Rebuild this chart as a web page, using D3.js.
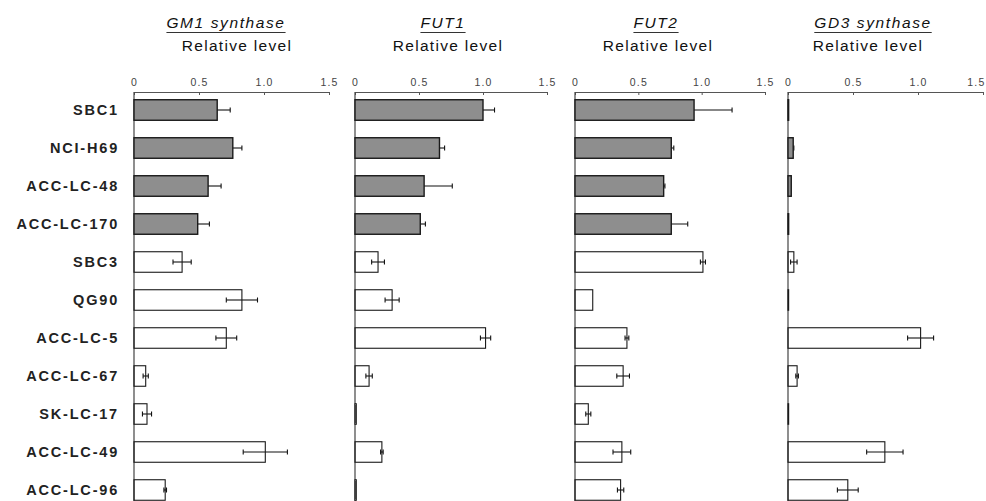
<!DOCTYPE html>
<html>
<head>
<meta charset="utf-8">
<script src="https://cdn.jsdelivr.net/npm/d3@7"></script>
<style>
  html, body { margin: 0; padding: 0; background: #fff; }
  svg { display: block; }
  text { font-family: "Liberation Sans", Arial, sans-serif; }
</style>
</head>
<body>
<svg id="chart" width="986" height="501"></svg>
<script>
// Cell lines (rows, top to bottom)
const cellLines = ["SBC1", "NCI-H69", "ACC-LC-48", "ACC-LC-170", "SBC3", "QG90",
  "ACC-LC-5", "ACC-LC-67", "SK-LC-17", "ACC-LC-49", "ACC-LC-96"];
// Lines drawn with shaded bars
const shadedLines = ["SBC1", "NCI-H69", "ACC-LC-48", "ACC-LC-170"];

// Genes (one panel each)
const genes = ["GM1 synthase", "FUT1", "FUT2", "GD3 synthase"];

// Relative expression levels (mean) per gene, in cellLines order
const gm1Values = [0.64, 0.76, 0.57, 0.49, 0.37, 0.83, 0.71, 0.09, 0.10, 1.01, 0.24];
const gm1Errors = [0.10, 0.07, 0.10, 0.09, 0.07, 0.12, 0.08, 0.02, 0.035, 0.17, 0.01];

const fut1Values = [1.00, 0.66, 0.54, 0.51, 0.18, 0.29, 1.02, 0.11, 0.01, 0.21, 0.01];
const fut1Errors = [0.09, 0.04, 0.22, 0.04, 0.05, 0.055, 0.04, 0.025, 0, 0.01, 0];

const fut2Values = [0.94, 0.76, 0.70, 0.76, 1.01, 0.14, 0.41, 0.38, 0.105, 0.37, 0.36];
const fut2Errors = [0.30, 0.02, 0.01, 0.13, 0.02, 0, 0.015, 0.05, 0.02, 0.07, 0.025];

const gd3Values = [0.005, 0.04, 0.025, 0.005, 0.045, 0.005, 1.02, 0.07, 0.005, 0.745, 0.46];
const gd3Errors = [0, 0.005, 0, 0, 0.025, 0, 0.10, 0.01, 0, 0.14, 0.08];

const tickValues = [0, 0.5, 1.0, 1.5];
const tickLabels = ["0", "0.5", "1.0", "1.5"];
const axisTitle = "Relative level";

const panelValues = [gm1Values, fut1Values, fut2Values, gd3Values];
const panelErrors = [gm1Errors, fut1Errors, fut2Errors, gd3Errors];

// Panel geometry: zero position, width of the 0–1.5 range, title centres
const panelLayout = [
  { x0: 134, w: 195, titleX: 226, subX: 237 },
  { x0: 355, w: 192, titleX: 443, subX: 448 },
  { x0: 575, w: 190, titleX: 656, subX: 658 },
  { x0: 788, w: 195, titleX: 873, subX: 868 }
];

const W = 986;
const svg = d3.select("#chart");
const axisY = 92;

const y = d3.scaleBand()
  .domain(cellLines)
  .range([axisY - 1, axisY - 1 + cellLines.length * 38])
  .paddingInner(0.46)
  .paddingOuter(0.23);

// Row labels
svg.append("g")
  .selectAll("text")
  .data(cellLines)
  .join("text")
  .attr("x", 119)
  .attr("y", d => y(d) + y.bandwidth() / 2)
  .attr("dy", "0.36em")
  .attr("text-anchor", "end")
  .attr("font-size", 14.5)
  .attr("font-weight", "bold")
  .attr("letter-spacing", 1.8)
  .attr("fill", "#222")
  .text(d => d);

genes.forEach((gene, p) => {
  const L = panelLayout[p];
  const x = d3.scaleLinear().domain([0, 1.5]).range([L.x0, L.x0 + L.w]);
  const g = svg.append("g");

  // Gene title, italic and underlined
  const title = g.append("text")
    .attr("x", L.titleX)
    .attr("y", 28)
    .attr("text-anchor", "middle")
    .attr("font-size", 15.5)
    .attr("font-style", "italic")
    .attr("letter-spacing", 1.6)
    .attr("fill", "#111")
    .text(gene);
  const tw = title.node().getComputedTextLength();
  g.append("line")
    .attr("x1", L.titleX - tw / 2).attr("x2", L.titleX + tw / 2)
    .attr("y1", 32.5).attr("y2", 32.5)
    .attr("stroke", "#333").attr("stroke-width", 1.2);

  g.append("text")
    .attr("x", L.subX)
    .attr("y", 51)
    .attr("text-anchor", "middle")
    .attr("font-size", 15.5)
    .attr("letter-spacing", 1.3)
    .attr("fill", "#111")
    .text(axisTitle);

  // Top value axis with short downward ticks
  const axis = d3.axisTop(x)
    .tickValues(tickValues)
    .tickFormat((d, i) => tickLabels[i])
    .tickSizeInner(-3)
    .tickSizeOuter(0)
    .tickPadding(6);
  const ag = g.append("g").attr("transform", `translate(0,${axisY})`).call(axis);
  ag.select(".domain").attr("stroke", "#555").attr("stroke-width", 1);
  ag.selectAll(".tick line").attr("stroke", "#555");
  ag.selectAll(".tick text")
    .attr("font-size", 10.5)
    .attr("letter-spacing", 1.2)
    .attr("fill", "#444")
    .attr("font-family", "\"Liberation Sans\", Arial, sans-serif")
    .each(function (d) {
      // keep the rightmost label inside the drawing area
      const half = this.getComputedTextLength() / 2;
      const over = x(d) + half - (W - 1);
      if (over > 0) d3.select(this).attr("dx", -over);
    });

  // Vertical baseline at zero
  g.append("line")
    .attr("x1", x(0)).attr("x2", x(0))
    .attr("y1", axisY).attr("y2", 501)
    .attr("stroke", "#444").attr("stroke-width", 1.2);

  const rows = cellLines.map((c, i) => ({
    line: c,
    v: panelValues[p][i],
    e: panelErrors[p][i],
    shaded: shadedLines.includes(c)
  }));

  // Error bars (drawn first so shaded bars cover the lower whisker)
  const eg = g.append("g").attr("stroke", "#111").attr("stroke-width", 1.1);
  rows.filter(r => r.e > 0).forEach(r => {
    const cy = y(r.line) + y.bandwidth() / 2;
    const lo = Math.max(0, r.v - r.e), hi = r.v + r.e;
    eg.append("line").attr("x1", x(lo)).attr("x2", x(hi)).attr("y1", cy).attr("y2", cy);
    [lo, hi].forEach(v => {
      eg.append("line").attr("x1", x(v)).attr("x2", x(v))
        .attr("y1", cy - 2.5).attr("y2", cy + 2.5);
    });
  });

  // Bars
  g.append("g")
    .selectAll("rect")
    .data(rows)
    .join("rect")
    .attr("x", x(0))
    .attr("y", d => y(d.line))
    .attr("width", d => Math.max(0.5, x(d.v) - x(0)))
    .attr("height", y.bandwidth())
    .attr("fill", d => d.shaded ? "#8e8e8e" : "none")
    .attr("stroke", "#1a1a1a")
    .attr("stroke-width", d => d.shaded ? 1.4 : 1.1);
});
</script>
</body>
</html>
